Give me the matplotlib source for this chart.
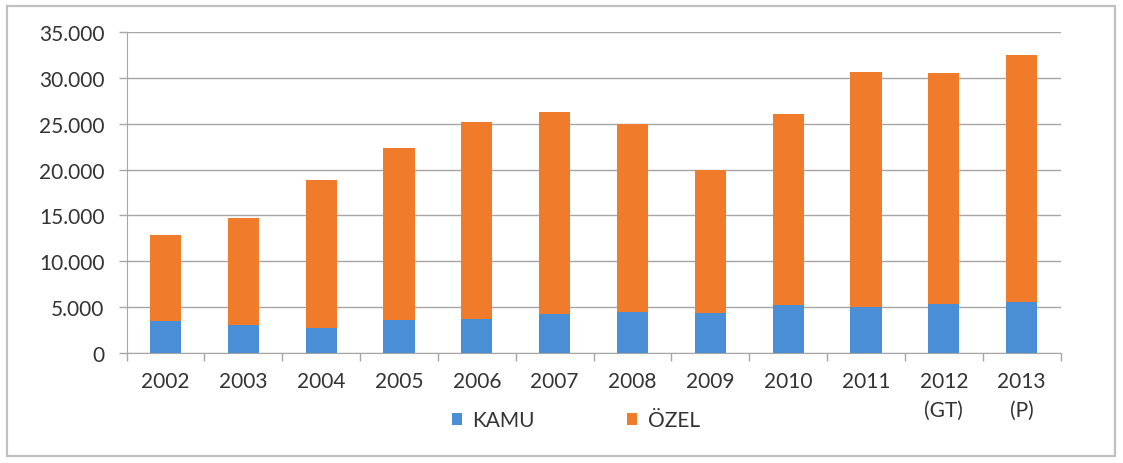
import matplotlib
matplotlib.use("Agg")
import matplotlib.pyplot as plt
from matplotlib.patches import Rectangle
from matplotlib.ticker import FuncFormatter, FixedLocator
import numpy as np

categories = ["2002", "2003", "2004", "2005", "2006", "2007", "2008", "2009",
              "2010", "2011", "2012\n(GT)", "2013\n(P)"]
kamu = [3500, 3000, 2700, 3600, 3750, 4200, 4500, 4350, 5250, 5050, 5300, 5600]
toplam = [12900, 14750, 18900, 22300, 25150, 26300, 25000, 20000, 26100, 30600, 30500, 32450]
ozel = [t - k for t, k in zip(toplam, kamu)]

blue = "#4a8fd6"
orange = "#f07b2b"
grid_c = "#a6a6a6"
text_c = "#333333"

plt.rcParams['font.family'] = ['Lato', 'DejaVu Sans']

fig = plt.figure(figsize=(11.23, 4.64), dpi=100)
fig.patches.append(Rectangle((7/1123, 7/464), 1108/1123, 450/464, transform=fig.transFigure,
                             fill=False, edgecolor="#c0c0c0", linewidth=1.6))

ax = fig.add_axes([126.6/1123, 1-354/464, (1060.6-126.6)/1123, (354-33)/464])
x = np.arange(len(categories))
ax.bar(x, kamu, width=0.4, color=blue, label="KAMU", zorder=3)
ax.bar(x, ozel, width=0.4, bottom=kamu, color=orange, label="ÖZEL", zorder=3)

ax.set_xlim(-0.5, len(categories) - 0.5)
ax.set_ylim(0, 35000)
ax.set_yticks(np.arange(0, 35001, 5000))
ax.yaxis.set_major_formatter(FuncFormatter(lambda v, p: f"{int(v):,}".replace(",", ".")))
ax.yaxis.grid(True, color=grid_c, linewidth=1.0, zorder=0)
ax.set_axisbelow(True)

ax.set_xticks(x)
ax.set_xticklabels(categories, linespacing=1.55, va="top")
ax.tick_params(axis="x", which="major", length=0, pad=13, labelsize=15, labelcolor=text_c)
ax.xaxis.set_minor_locator(FixedLocator(np.arange(-0.5, len(categories), 1.0)))
ax.tick_params(axis="x", which="minor", length=6, color=grid_c, width=1)
ax.tick_params(axis="y", length=6, color=grid_c, width=1, pad=10, labelsize=15, labelcolor=text_c)

for s in ["top", "right"]:
    ax.spines[s].set_visible(False)
ax.spines["left"].set_color(grid_c)
ax.spines["bottom"].set_color(grid_c)

leg = fig.legend(loc="center left", bbox_to_anchor=(433/1123, 1-421/464), ncol=2,
                 frameon=False, fontsize=15, handlelength=0.5, handleheight=0.5,
                 handletextpad=0.5, columnspacing=4.4)
for t in leg.get_texts():
    t.set_color(text_c)

fig.savefig("out.png", dpi=100, facecolor="white")
